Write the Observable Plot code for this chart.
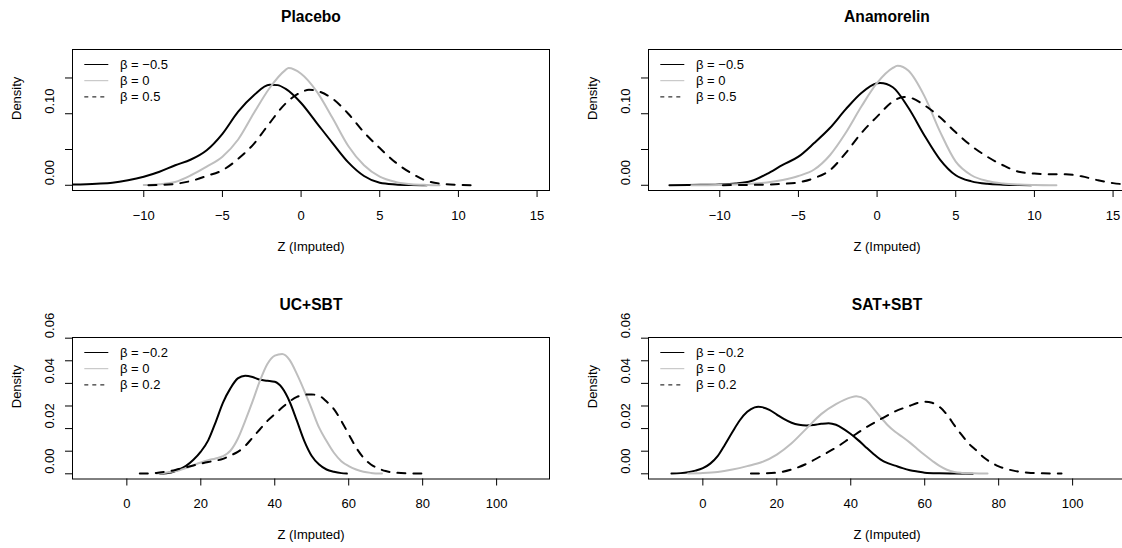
<!DOCTYPE html>
<html>
<head>
<meta charset="utf-8">
<script src="https://cdn.jsdelivr.net/npm/d3@7"></script>
<script src="https://cdn.jsdelivr.net/npm/@observablehq/plot@0.6"></script>
<style>
  html, body { margin: 0; padding: 0; background: #fff; }
  #grid { position: relative; width: 1122px; height: 548px; overflow: hidden; background: #fff; }
  .panel { position: absolute; width: 576px; height: 274px; }
</style>
</head>
<body>
<div id="grid"></div>
<script>
// ---- Titles, legend labels and axis ticks ----
const panelTitles = ["Placebo", "Anamorelin", "UC+SBT", "SAT+SBT"];
const legendTop = ["β = −0.5", "β = 0", "β = 0.5"];
const legendBottom = ["β = −0.2", "β = 0", "β = 0.2"];
const xLabel = "Z (Imputed)";
const yLabel = "Density";

const xTicksTop = [-10, -5, 0, 5, 10, 15];
const xTickLabelsTop = ["−10", "−5", "0", "5", "10", "15"];
const xTicksBottom = [0, 20, 40, 60, 80, 100];
const xTickLabelsBottom = ["0", "20", "40", "60", "80", "100"];
const yTicksTop = [0, 0.05, 0.10, 0.15];
const yTickLabelsTop = ["0.00", "", "0.10", ""];
const yTicksBottom = [0, 0.01, 0.02, 0.03, 0.04, 0.05, 0.06];
const yTickLabelsBottom = ["0.00", "", "0.02", "", "0.04", "", "0.06"];

// ---- Density curves: [Z, density] ----
// Placebo
const placeboNeg = [[-14.5,0.001],[-13,0.0022],[-12,0.0035],[-11,0.007],[-10,0.012],[-9,0.019],[-8,0.028],[-7,0.036],[-6,0.049],[-5,0.072],[-4,0.103],[-3,0.126],[-2,0.1405],[-1.5,0.140],[-1,0.135],[0,0.115],[1,0.087],[2,0.059],[3,0.032],[4,0.013],[5,0.0035],[6,0.0012],[7,0.0004],[8,0.0001]];
const placeboZero = [[-10,0.0003],[-9,0.0015],[-8,0.0047],[-7,0.014],[-6,0.026],[-5,0.040],[-4,0.064],[-3,0.101],[-2,0.136],[-1,0.161],[-0.8,0.164],[0,0.156],[1,0.131],[2,0.094],[3,0.055],[4,0.028],[5,0.012],[6,0.0047],[7,0.0015],[8,0.0005],[8.8,0.0001]];
const placeboPos = [[-9.7,0.0002],[-9,0.0006],[-8,0.002],[-7,0.006],[-6,0.013],[-5,0.021],[-4,0.037],[-3,0.058],[-2,0.087],[-1,0.114],[0,0.130],[0.5,0.1335],[1,0.132],[2,0.121],[3,0.100],[4,0.074],[5,0.052],[6,0.032],[7,0.017],[8,0.006],[9,0.002],[10,0.0006],[10.9,0.0001]];
// Anamorelin
const anamNeg = [[-13.2,0.0002],[-12,0.0005],[-11,0.0008],[-10,0.0012],[-9,0.0025],[-8,0.006],[-7,0.016],[-6,0.0285],[-5,0.040],[-4,0.059],[-3,0.080],[-2,0.106],[-1,0.129],[0,0.1425],[0.2,0.143],[1,0.137],[2,0.108],[3,0.070],[4,0.036],[5,0.014],[6,0.0055],[7,0.002],[8,0.0008],[9,0.0003],[9.8,0.0001]];
const anamZero = [[-11.8,0.0001],[-10,0.0005],[-8,0.002],[-7,0.004],[-6,0.0075],[-5,0.013],[-4,0.022],[-3,0.042],[-2,0.073],[-1,0.110],[0,0.143],[1,0.164],[1.3,0.167],[2,0.160],[3,0.125],[4,0.075],[5,0.033],[6,0.014],[7,0.006],[8,0.0025],[9,0.001],[10,0.0004],[11.4,0.0001]];
const anamPos = [[-9.8,0.0002],[-8,0.0005],[-7,0.001],[-6,0.002],[-5,0.004],[-4,0.010],[-3,0.021],[-2,0.045],[-1,0.073],[0,0.096],[1,0.117],[1.7,0.1235],[2,0.123],[3,0.112],[4,0.095],[5,0.074],[6,0.055],[7,0.040],[8,0.028],[9,0.019],[10,0.0163],[11,0.0155],[12,0.0153],[13,0.0125],[14,0.0072],[15,0.003],[15.8,0.0013]];
// UC+SBT
const ucNeg = [[9,0.0001],[12,0.0006],[14,0.0018],[16,0.0035],[18,0.0062],[20,0.0098],[22,0.0148],[24,0.0228],[26,0.0315],[28,0.0378],[30,0.0422],[32,0.0434],[34,0.0428],[36,0.0416],[38,0.0412],[40,0.0407],[42,0.0380],[44,0.0320],[46,0.0234],[48,0.0145],[50,0.0079],[52,0.0041],[54,0.0019],[56,0.0009],[58,0.0003],[59.5,0.0001]];
const ucZero = [[8,0.0001],[10,0.0004],[12,0.0009],[14,0.0015],[16,0.0025],[18,0.0038],[20,0.005],[22,0.006],[24,0.0068],[26,0.0078],[28,0.0102],[30,0.0155],[32,0.0234],[34,0.032],[36,0.0412],[38,0.0486],[40,0.0523],[42,0.053],[44,0.0504],[46,0.0441],[48,0.0367],[50,0.0286],[52,0.0204],[54,0.0145],[56,0.0093],[58,0.0056],[60,0.0034],[62,0.0019],[64,0.0009],[66,0.0004],[69,0.0001]];
const ucPos = [[3.5,0.0001],[6,0.0002],[8,0.0004],[10,0.0008],[12,0.0013],[14,0.0021],[16,0.0029],[18,0.0037],[20,0.0045],[22,0.0052],[24,0.0058],[26,0.0066],[28,0.0081],[30,0.0097],[32,0.0123],[34,0.016],[36,0.0197],[38,0.0234],[40,0.0264],[42,0.0293],[44,0.032],[46,0.034],[48,0.035],[50,0.0351],[52,0.0345],[54,0.032],[56,0.0286],[58,0.0234],[60,0.0175],[62,0.0116],[64,0.0071],[66,0.0041],[68,0.0024],[70,0.0012],[72,0.0006],[76,0.0002],[80,0.0001]];
// SAT+SBT
const satNeg = [[-8.5,0.0001],[-6,0.0003],[-4,0.0007],[-2,0.0014],[0,0.0025],[2,0.0045],[4,0.0078],[6,0.013],[8,0.0185],[10,0.0237],[12,0.0274],[14,0.0294],[15,0.0297],[16,0.0295],[18,0.0283],[20,0.0262],[22,0.0242],[24,0.0226],[26,0.0217],[28,0.0214],[30,0.0216],[32,0.0221],[34,0.0224],[36,0.0217],[38,0.0199],[40,0.0176],[42,0.0149],[44,0.0119],[46,0.009],[48,0.0064],[50,0.0047],[52,0.0036],[54,0.0025],[56,0.0016],[58,0.001],[60,0.0005],[64,0.0002],[68,0.0001],[73,0.0]];
const satZero = [[-4,0.0001],[0,0.0003],[4,0.0008],[8,0.0019],[12,0.0034],[16,0.0052],[20,0.0085],[24,0.0135],[28,0.0200],[32,0.0264],[36,0.0308],[40,0.0338],[41.5,0.0343],[44,0.0328],[46,0.0292],[48,0.0252],[50,0.0215],[52,0.0186],[54,0.0163],[56,0.0138],[58,0.011],[60,0.0083],[62,0.0058],[64,0.0035],[66,0.0018],[68,0.0008],[70,0.0004],[73,0.0002],[77,0.0001]];
const satPos = [[13,0.0001],[16,0.0002],[20,0.0005],[24,0.0019],[28,0.0044],[32,0.0079],[36,0.0116],[40,0.016],[44,0.0204],[48,0.0241],[52,0.0276],[56,0.0301],[58,0.0313],[60,0.0319],[62,0.0314],[64,0.0296],[66,0.0262],[68,0.0215],[70,0.0172],[72,0.0132],[74,0.0103],[76,0.0072],[78,0.005],[80,0.0033],[84,0.0014],[88,0.0005],[92,0.0002],[97,0.0001]];

// ---- Drawing ----
const FONT = "'Liberation Sans', Arial, Helvetica, sans-serif";
const lineStyles = [
  {stroke: "black", dash: null, legendDash: null},
  {stroke: "#bebebe", dash: null, legendDash: null},
  {stroke: "black", dash: "8,8", legendDash: "4,4"}
];

function densityPanel(cfg) {
  const W = 576, H = 274, ML = 72, MR = 27;
  const tickLabelRows = cfg.yTicks.map((v, i) => ({v, t: cfg.yTickLabels[i]})).filter(d => d.t !== "");
  const svg = Plot.plot({
    width: W, height: H,
    marginLeft: ML, marginRight: MR, marginTop: cfg.marginTop, marginBottom: cfg.marginBottom,
    x: {domain: cfg.xDomain, label: null},
    y: {domain: cfg.yDomain, label: null},
    style: `font-family: ${FONT}; font-size: 13px; color: black; background: white; max-width: none; overflow: visible;`,
    marks: [
      Plot.axisX({ticks: cfg.xTicks, tickSize: 7, tickPadding: 13, label: null,
        tickFormat: d => cfg.xTickLabels[cfg.xTicks.indexOf(d)]}),
      Plot.axisY({ticks: cfg.yTicks, tickSize: 7, tickFormat: () => "", label: null}),
      Plot.text(tickLabelRows, {y: "v", text: "t", frameAnchor: "left", dx: -23, rotate: -90, lineAnchor: "middle", fill: "black"}),
      ...cfg.series.map((pts, k) => Plot.line(pts, {
        x: d => d[0], y: d => d[1],
        stroke: lineStyles[k].stroke, strokeWidth: 2,
        strokeDasharray: lineStyles[k].dash || undefined,
        curve: "monotone-x", clip: true
      })),
      Plot.frame({stroke: "black", strokeWidth: 1}),
      Plot.text([cfg.title], {text: d => d, frameAnchor: "top", dy: -32.5, lineAnchor: "middle", fontWeight: "bold", fontSize: 15.6, fill: "black"}),
      Plot.text([xLabel], {text: d => d, frameAnchor: "bottom", dy: 56, lineAnchor: "middle", fill: "black"}),
      Plot.text([yLabel], {text: d => d, frameAnchor: "left", dx: -56, rotate: -90, lineAnchor: "middle", fill: "black"})
    ]
  });

  // Legend (no border), top-left inside the plotting box
  const g = d3.select(svg).append("g")
    .attr("font-family", FONT).attr("font-size", 13).attr("fill", "black")
    .attr("text-anchor", "start");
  cfg.legend.forEach((lab, i) => {
    const y = cfg.marginTop + 15.5 + i * 16.2;
    g.append("line")
      .attr("x1", ML + 12.3).attr("x2", ML + 36.3)
      .attr("y1", y).attr("y2", y)
      .attr("stroke", lineStyles[i].stroke).attr("stroke-width", 1)
      .attr("stroke-dasharray", lineStyles[i].legendDash);
    g.append("text")
      .attr("x", ML + 48).attr("y", y).attr("dy", "0.35em")
      .attr("text-anchor", "start")
      .text(lab);
  });
  return svg;
}

const topRow = {xTicks: xTicksTop, xTickLabels: xTickLabelsTop, yTicks: yTicksTop, yTickLabels: yTickLabelsTop,
  xDomain: [-14.53, 15.79], yDomain: [-0.0073, 0.1898], marginTop: 49, marginBottom: 84, legend: legendTop};
const bottomRow = {xTicks: xTicksBottom, xTickLabels: xTickLabelsBottom, yTicks: yTicksBottom, yTickLabels: yTickLabelsBottom,
  xDomain: [-14.7, 114.3], yDomain: [-0.0023, 0.0603], marginTop: 63, marginBottom: 69.5, legend: legendBottom};

const panels = [
  {...topRow, title: panelTitles[0], series: [placeboNeg, placeboZero, placeboPos], left: 0, topPx: 0},
  {...topRow, title: panelTitles[1], series: [anamNeg, anamZero, anamPos], left: 576, topPx: 0},
  {...bottomRow, title: panelTitles[2], series: [ucNeg, ucZero, ucPos], left: 0, topPx: 274},
  {...bottomRow, title: panelTitles[3], series: [satNeg, satZero, satPos], left: 576, topPx: 274}
];

const grid = document.getElementById("grid");
for (const p of panels) {
  const div = document.createElement("div");
  div.className = "panel";
  div.style.left = p.left + "px";
  div.style.top = p.topPx + "px";
  div.appendChild(densityPanel(p));
  grid.appendChild(div);
}
</script>
</body>
</html>
